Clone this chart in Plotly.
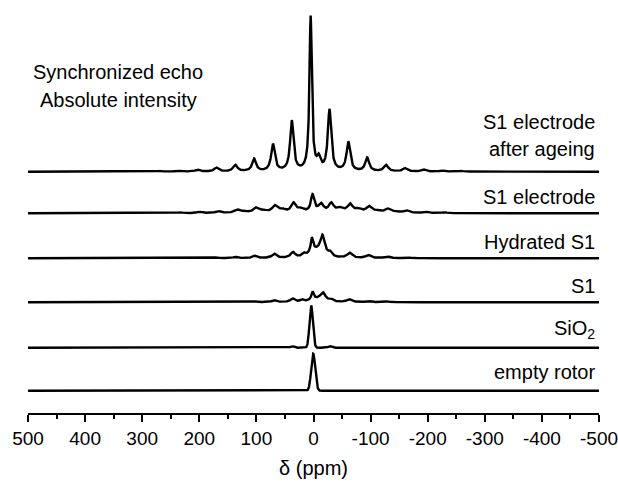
import numpy as np
import plotly.graph_objects as go

# ---------------- data ----------------
tick_values = [500, 400, 300, 200, 100, 0, -100, -200, -300, -400, -500]
tick_labels = ["500", "400", "300", "200", "100", "0", "-100", "-200", "-300", "-400", "-500"]
minor_ticks = [450, 350, 250, 150, 50, -50, -150, -250, -350, -450]

# Peak lists per spectrum: position (ppm), height (display units), half width (ppm)
ageing_pos = [5, -9, 38, -28, 71, -61, 104, -94, 137, -127, 170, -160, 203, -193, 236, -226, 269, -259]
ageing_height = [154, 11, 50, 61, 27, 29, 12.5, 13.5, 6.5, 6.5, 3.8, 3.3, 2, 2, 1.2, 1.2, 0.7, 0.7]
ageing_width = [2.5, 3.5, 3.5, 3.5, 3.8, 3.8, 4, 4, 4.5, 4.5, 4.5, 4.5, 4.5, 4.5, 4.5, 4.5, 4.5, 4.5]

electrode_pos = [1.7, -13, -31, 35, 68, 101, 134, 167, 200, 233, -64, -97, -130, -163, -196, -229,
                 22, 55, 88, 121, -46, -79, -112, -145]
electrode_height = [17, 8.5, 9, 9.2, 6.8, 4.8, 3.2, 2.1, 1.4, 0.8, 8.2, 6, 3.9, 2.6, 1.6, 0.9,
                    3.5, 3.1, 2.2, 1.4, 4.2, 3.3, 2.2, 1.4]
electrode_width = [3.5, 5.5, 5, 5, 5.5, 5.5, 5.5, 5.5, 5.5, 5.5, 5.5, 5.5, 5.5, 5.5, 5.5, 5.5,
                   7, 7, 7, 7, 7, 7, 7, 7]

hydrated_pos = [2.8, -15.7, -29, -3, 17, 36, 69, 103, 137, 170, -63, -96, -129, -163]
hydrated_height = [14, 20, 4, 6.5, 3, 5.5, 4.3, 2.4, 1.3, 0.8, 5, 3, 1.8, 1]
hydrated_width = [2.5, 5, 3.5, 12, 3.5, 4.5, 4.5, 4.5, 4.5, 4.5, 5, 5, 5, 5]

s1_pos = [1.7, -16.4, -5, 20, 36.7, 69, 103, -31.3, -62.5, -96, -129]
s1_height = [8, 8.5, 2.5, 2, 3.5, 2.1, 1, 2.2, 2.8, 1.4, 0.8]
s1_width = [2.5, 5.5, 12, 3.5, 4.5, 4.5, 4.5, 4, 5, 5, 5]

sio2_pos = [4, 37, -29]
sio2_height = [42, 1.5, 1.5]
sio2_width = [3.0, 3.0, 3.0]

rotor_pos = [0.5]
rotor_height = [37]
rotor_width = [3.5]

label_ageing = ["S1 electrode", "after ageing"]
label_names = ["S1 electrode", "Hydrated S1", "S1", "SiO<sub>2</sub>", "empty rotor"]
header_lines = ["Synchronized echo", "Absolute intensity"]

# ---------------- layout constants ----------------
baselines = [241.3, 199.7, 154.7, 110.7, 65.3, 22.3]


def lorentz_sum(x, pos, hts, wid):
    y = np.zeros_like(x)
    for p, h, w in zip(pos, hts, wid):
        y += h / (1.0 + ((x - p) / w) ** 2)
    return y


def gauss_sum(x, pos, hts, wid):
    y = np.zeros_like(x)
    for p, h, w in zip(pos, hts, wid):
        y += h * np.exp(-0.5 * ((x - p) / w) ** 2)
    return y


ppm = np.linspace(500, -500, 4001)
spectra = [
    lorentz_sum(ppm, ageing_pos, ageing_height, ageing_width),
    lorentz_sum(ppm, electrode_pos, electrode_height, electrode_width),
    lorentz_sum(ppm, hydrated_pos, hydrated_height, hydrated_width),
    lorentz_sum(ppm, s1_pos, s1_height, s1_width),
    gauss_sum(ppm, sio2_pos, sio2_height, sio2_width),
    gauss_sum(ppm, rotor_pos, rotor_height, rotor_width),
]
names = ["S1 electrode after ageing", "S1 electrode", "Hydrated S1", "S1", "SiO2", "empty rotor"]

fig = go.Figure()
for spec, base, nm in zip(spectra, baselines, names):
    fig.add_trace(go.Scatter(x=ppm, y=spec + base, mode="lines", name=nm,
                             line=dict(color="black", width=2.4), showlegend=False,
                             hoverinfo="skip"))

FONT = "Arial, Liberation Sans, Helvetica, sans-serif"


def px_to_ppm(px):
    return 500 - (px - 28) * 1000 / 571.0


def py_to_y(py):
    return 413 - py


ann = []
ann.append(dict(x=px_to_ppm(118), y=py_to_y(72), text=header_lines[0]))
ann.append(dict(x=px_to_ppm(118), y=py_to_y(100), text=header_lines[1]))
for a in ann:
    a.update(xanchor="center", yanchor="middle")
right_labels = [(label_ageing[0], 122), (label_ageing[1], 149)] + list(zip(label_names, [197, 242, 286, 329, 372]))
for txt, py in right_labels:
    ann.append(dict(x=px_to_ppm(597), y=py_to_y(py), text=txt, xanchor="right", yanchor="middle"))
for a in ann:
    a.update(xref="x", yref="y", showarrow=False, font=dict(family=FONT, size=20, color="black"))

fig.update_layout(
    width=618, height=482,
    margin=dict(l=28, r=19, t=10, b=69, autoexpand=False),
    paper_bgcolor="white", plot_bgcolor="white",
    annotations=ann,
    font=dict(family=FONT, color="black"),
    xaxis=dict(
        range=[500, -500], showgrid=False, zeroline=False, automargin=False,
        showline=True, linecolor="black", linewidth=2,
        ticks="outside", ticklen=7, tickwidth=2, tickcolor="black",
        tickvals=tick_values, ticktext=tick_labels, ticklabeloverflow="allow",
        tickfont=dict(family=FONT, size=19, color="black"),
        minor=dict(tickvals=minor_ticks, ticks="outside", ticklen=4, tickwidth=2, tickcolor="black"),
        title=dict(text="δ (ppm)", font=dict(family=FONT, size=20, color="black"), standoff=13),
    ),
    yaxis=dict(range=[0, 403], visible=False, showgrid=False, zeroline=False),
)

fig.write_html("out.html", config={"displayModeBar": False},
               post_script="document.body.style.margin='0px';document.body.style.overflow='hidden';")
